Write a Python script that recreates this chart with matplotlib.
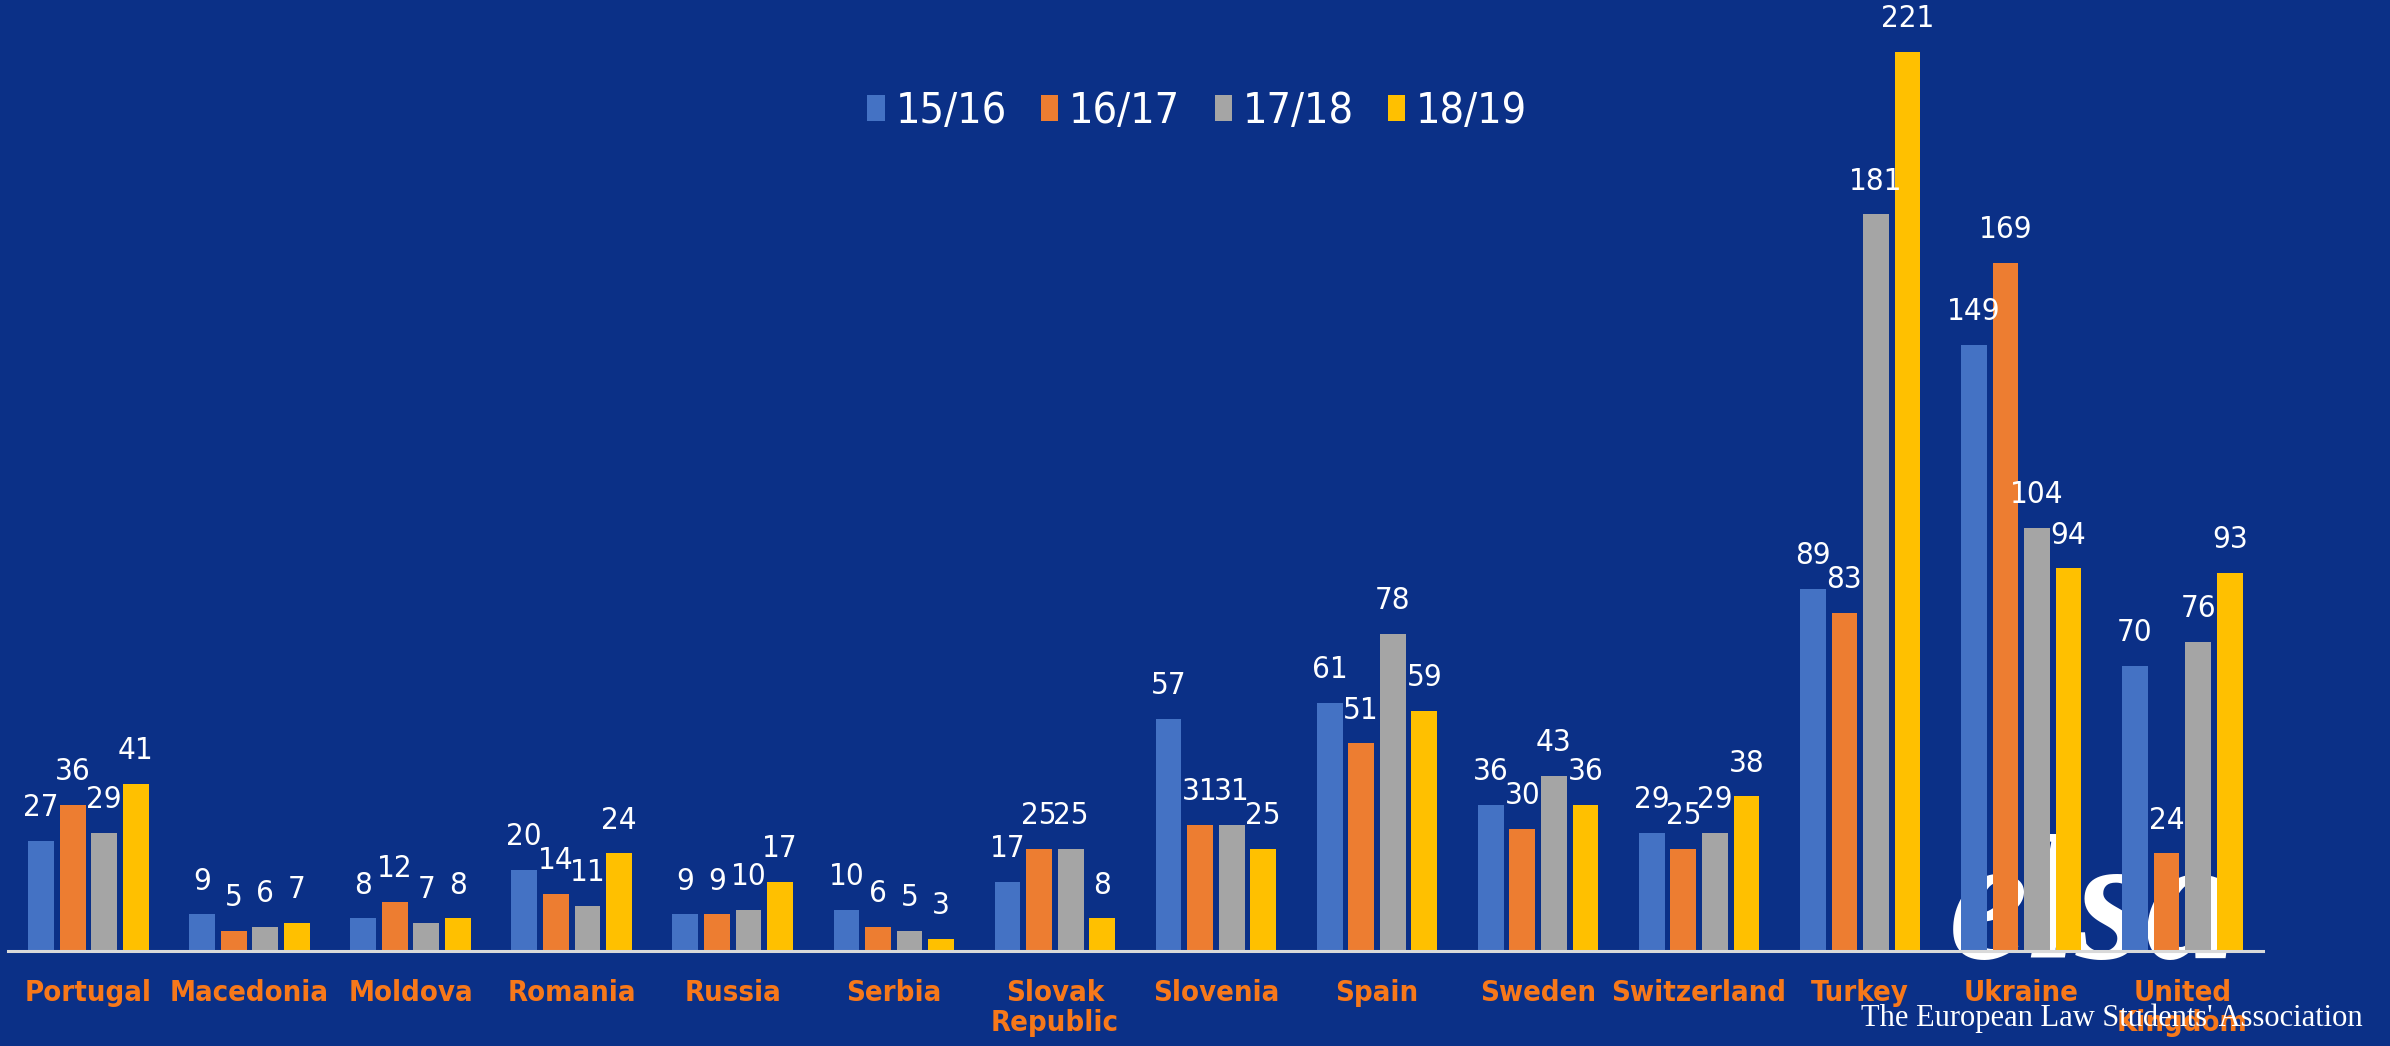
import os
import matplotlib
matplotlib.use('Agg')
import matplotlib.pyplot as plt
import matplotlib.font_manager as fm
from matplotlib.patches import Patch
import numpy as np

# ELSA participants per country and season
countries = ['Portugal', 'Macedonia', 'Moldova', 'Romania', 'Russia', 'Serbia',
             'Slovak\nRepublic', 'Slovenia', 'Spain', 'Sweden', 'Switzerland',
             'Turkey', 'Ukraine', 'United\nKingdom']
seasons = ['15/16', '16/17', '17/18', '18/19']
s1516 = [27, 9, 8, 20, 9, 10, 17, 57, 61, 36, 29, 89, 149, 70]
s1617 = [36, 5, 12, 14, 9, 6, 25, 31, 51, 30, 25, 83, 169, 24]
s1718 = [29, 6, 7, 11, 10, 5, 25, 31, 78, 43, 29, 181, 104, 76]
s1819 = [41, 7, 8, 24, 17, 3, 8, 25, 59, 36, 38, 221, 94, 93]

colors = ['#4472C4', '#ED7D31', '#A5A5A5', '#FFC000']
bg = '#0B3087'
lblcolor = '#F7781A'

# condensed sans face gives the Calibri-like narrow look
files = {os.path.basename(f.fname): f.fname for f in fm.fontManager.ttflist}
def pick(names, fallback):
    for n in names:
        if n in files:
            return fm.FontProperties(fname=files[n])
    return fm.FontProperties(family=fallback)
fp = pick(['DejaVuSansCondensed.ttf'], 'DejaVu Sans')
fpb = pick(['DejaVuSansCondensed-Bold.ttf'], 'DejaVu Sans')

fig = plt.figure(figsize=(23.9, 10.46), dpi=100, facecolor=bg)
ax = fig.add_axes([0.0033, 0.0908, 0.9435, 0.9092])
ax.set_facecolor('none')

x = np.arange(len(countries))
step = 0.196
barwid = 0.16
for i, (vals, col) in enumerate(zip([s1516, s1617, s1718, s1819], colors)):
    bars = ax.bar(x + (i - 1.5) * step, vals, width=barwid, color=col, zorder=2)
    for b, v in zip(bars, vals):
        ax.annotate(str(v), (b.get_x() + b.get_width() / 2, v), xytext=(0, 24),
                    textcoords='offset points', ha='center', va='center',
                    color='white', fontproperties=fp, fontsize=22.5, zorder=3)

ax.set_xlim(-0.5, len(countries) - 0.5)
ax.set_ylim(0, 233.7)
ax.set_yticks([])
ax.set_xticks(x)
ax.set_xticklabels(countries, color=lblcolor, fontproperties=fpb, fontsize=21,
                   linespacing=1.1)
ax.tick_params(axis='x', length=0, pad=20)
for s in ['top', 'left', 'right']:
    ax.spines[s].set_visible(False)
ax.spines['bottom'].set_color('#D9D9D9')
ax.spines['bottom'].set_linewidth(2.2)
ax.spines['bottom'].set_zorder(4)

# legend on top centre
handles = [Patch(facecolor=c, edgecolor='none') for c in colors]
lp = fp.copy()
lp.set_size(31)
fig.legend(handles, seasons, loc='center', bbox_to_anchor=(0.501, 0.894), ncol=4,
           frameon=False, prop=lp, labelcolor='white',
           handlelength=0.4, handleheight=0.55, handletextpad=0.25, columnspacing=0.8)

# ELSA logo behind the last bars
ax.text(0.8155, 0.084, 'elsa', transform=fig.transFigure, color='white',
        fontsize=128, fontstyle='italic', fontweight='bold', family='Liberation Serif',
        ha='left', va='baseline', zorder=1, clip_on=False)
fig.text(0.9885, 0.027, "The European Law Students' Association", color='white',
         fontsize=22, family='Liberation Serif', ha='right', va='center')

fig.savefig('out.png', dpi=100, facecolor=bg)
